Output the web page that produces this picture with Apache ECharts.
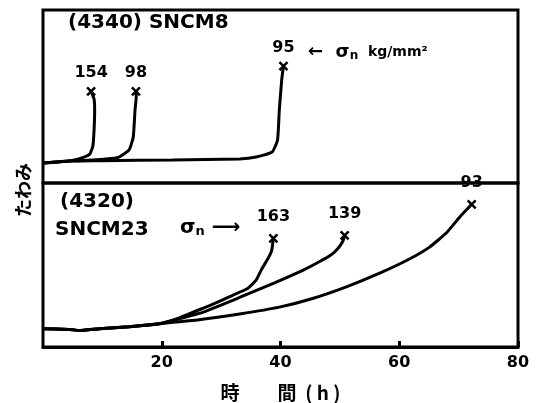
<!DOCTYPE html>
<html lang="ja">
<head>
  <meta charset="UTF-8">
  <title>たわみ - 時間</title>
  <style>
    html, body { margin: 0; padding: 0; background: #fff; }
    .chart { width: 536px; height: 403px; }
  </style>
</head>
<body>
  <div class="chart"></div>

  <script src="https://cdn.jsdelivr.net/npm/echarts@6/dist/echarts.min.js"></script>
  <script>
    // 上段 (4340) SNCM8 : 時間 h / たわみ (任意目盛)
    var topBaseHours = [0, 4.4];
    var topBaseDefl = [11.5, 12.7];
    var h154 = [6.9, 7.9, 8.4, 8.6, 8.7, 8.6, 8.1];
    var d154 = [15.0, 16.8, 21.4, 30.6, 42.2, 48.5, 53.0];
    var h98 = [6.0, 10.6, 12.8, 14.5, 15.2, 15.5, 15.7, 15.65];
    var d98 = [12.9, 13.9, 15.0, 19.1, 26.6, 42.2, 49.5, 53.0];
    var h95 = [10.0, 21.8, 33.1, 35.9, 38.6, 39.5, 39.8, 40.2, 40.5];
    var d95 = [12.9, 13.3, 13.9, 15.0, 17.9, 24.9, 42.2, 59.5, 67.6];
    var topStress = [154, 98, 95];

    // 下段 (4320) SNCM23
    var botBaseHours = [0, 4.4, 6.1, 9.5, 14.5, 19.6];
    var botBaseDefl = [11.2, 10.7, 10.1, 11.2, 12.4, 14.2];
    var h163 = [22.95, 27.0, 29.7, 32.2, 34.4, 35.9, 36.8, 37.8, 38.5, 38.8];
    var d163 = [17.8, 23.7, 27.8, 32.0, 35.5, 40.8, 47.3, 53.3, 58.6, 66.3];
    var h139 = [22.95, 27.0, 33.1, 39.0, 44.1, 46.6, 48.3, 49.6, 50.5, 50.8];
    var d139 = [17.2, 21.3, 30.2, 39.1, 47.3, 52.1, 55.6, 59.8, 64.5, 68.0];
    var h93 = [26.3, 33.1, 39.8, 45.4, 51.1, 56.7, 61.8, 65.1, 68.0, 70.2, 72.2];
    var d93 = [16.6, 20.1, 24.3, 29.6, 36.7, 45.0, 53.8, 60.9, 69.8, 79.3, 87.0];
    var botStress = [163, 139, 93];

    var xTicks = [0, 20, 40, 60, 80];

    var topTitle = '(4340) SNCM8';
    var botTitle1 = '(4320)';
    var botTitle2 = 'SNCM23';
    var xName = '時　　間  ( h )';
    var yName = 'たわみ';

    var pts = function (hs, ds) {
      return hs.map(function (h, i) { return [h, ds[i]]; });
    };
    var topCurves = [
      pts(topBaseHours.concat(h154), topBaseDefl.concat(d154)),
      pts(topBaseHours.concat(h98), topBaseDefl.concat(d98)),
      pts(topBaseHours.concat(h95), topBaseDefl.concat(d95))
    ];
    var botCurves = [
      pts(botBaseHours.concat(h163), botBaseDefl.concat(d163)),
      pts(botBaseHours.concat(h139), botBaseDefl.concat(d139)),
      pts(botBaseHours.concat(h93), botBaseDefl.concat(d93))
    ];
    // 破断点 (x印) は各曲線の最終点
    var ends = function (curves, stress) {
      return curves.map(function (c, i) {
        var p = c[c.length - 1];
        return [p[0], p[1], stress[i]];
      });
    };

    var hand = '"DejaVu Sans", sans-serif';
    var cross = 'path://M0,0L10,10M10,0L0,10';

    var lineSeries = function (data, idx) {
      return {
        type: 'line', data: data, xAxisIndex: idx, yAxisIndex: idx,
        showSymbol: false, smooth: 0.15, silent: true,
        lineStyle: { color: '#000', width: 3 }
      };
    };
    var endSeries = function (data, idx, dist) {
      return {
        type: 'scatter', data: data, xAxisIndex: idx, yAxisIndex: idx,
        symbol: cross, symbolSize: 8, silent: true,
        itemStyle: { color: 'none', borderColor: '#000', borderWidth: 2.5, opacity: 1 },
        label: {
          show: true, position: 'top', distance: dist, color: '#000',
          fontFamily: hand, fontWeight: 'bold', fontSize: 16,
          formatter: function (p) { return p.value[2]; }
        }
      };
    };

    var chart = echarts.init(document.querySelector('.chart'));
    chart.setOption({
      animation: false,
      backgroundColor: '#fff',
      grid: [
        { left: 43, right: 18, top: 10, height: 173, show: true, borderColor: '#000', borderWidth: 3 },
        { left: 43, right: 18, top: 183, height: 169, show: true, borderColor: '#000', borderWidth: 3 }
      ],
      xAxis: [
        { gridIndex: 0, type: 'value', min: 0, max: 80, show: false },
        {
          gridIndex: 1, type: 'value', min: xTicks[0], max: xTicks[xTicks.length - 1], interval: 20,
          axisLine: { lineStyle: { color: '#000', width: 3 } },
          axisTick: { inside: true, length: 6, lineStyle: { color: '#000', width: 3 } },
          splitLine: { show: false },
          axisLabel: {
            showMinLabel: false, margin: 8, color: '#000',
            fontFamily: hand, fontWeight: 'bold', fontSize: 16
          },
          name: xName, nameLocation: 'middle', nameGap: 36,
          nameTextStyle: {
            color: '#000', fontFamily: '"Noto Sans CJK JP", sans-serif',
            fontWeight: 'bold', fontSize: 19, padding: [0, 0, 0, 0]
          }
        }
      ],
      yAxis: [
        { gridIndex: 0, type: 'value', min: 0, max: 100, show: false },
        { gridIndex: 1, type: 'value', min: 0, max: 100, show: false }
      ],
      series: [
        lineSeries(topCurves[0], 0),
        lineSeries(topCurves[1], 0),
        lineSeries(topCurves[2], 0),
        endSeries(ends(topCurves, topStress), 0, 4),
        lineSeries(botCurves[0], 1),
        lineSeries(botCurves[1], 1),
        lineSeries(botCurves[2], 1),
        endSeries(ends(botCurves, botStress), 1, 7)
      ],
      graphic: [
        {
          type: 'text', x: 68, y: 23,
          style: { text: topTitle, fill: '#000', font: 'bold 20px ' + hand, verticalAlign: 'middle' }
        },
        {
          type: 'text', x: 308, y: 52,
          style: {
            text: '{a|←  σ}{n|n}{u|  kg/mm²}', verticalAlign: 'middle',
            rich: {
              a: { fill: '#000', font: 'bold 18px ' + hand },
              n: { fill: '#000', font: 'bold 12px ' + hand, padding: [8, 0, 0, 0] },
              u: { fill: '#000', font: 'bold 14px ' + hand }
            }
          }
        },
        {
          type: 'text', x: 60, y: 202,
          style: { text: botTitle1, fill: '#000', font: 'bold 20px ' + hand, verticalAlign: 'middle' }
        },
        {
          type: 'text', x: 55, y: 230,
          style: { text: botTitle2, fill: '#000', font: 'bold 20px ' + hand, verticalAlign: 'middle' }
        },
        {
          type: 'text', x: 180, y: 228,
          style: {
            text: '{a|σ}{n|n}{a| ⟶}', verticalAlign: 'middle',
            rich: {
              a: { fill: '#000', font: 'bold 20px ' + hand },
              n: { fill: '#000', font: 'bold 13px ' + hand, padding: [8, 0, 0, 0] }
            }
          }
        },
        {
          type: 'text', x: 23, y: 190, rotation: Math.PI / 2,
          style: {
            text: yName, fill: '#000', align: 'center', verticalAlign: 'middle',
            font: 'bold 18px "Noto Sans CJK JP", sans-serif'
          }
        }
      ]
    });
  </script>
</body>
</html>
